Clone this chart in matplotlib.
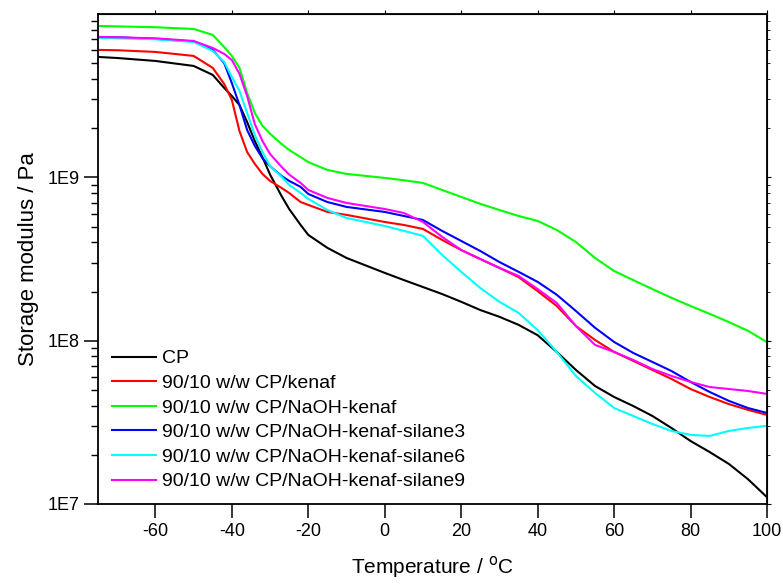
import numpy as np
import matplotlib
matplotlib.use("Agg")
import matplotlib.pyplot as plt
from matplotlib.ticker import LogLocator, FixedLocator, NullFormatter

plt.rcParams["font.family"] = ["Liberation Sans", "DejaVu Sans"]
plt.rcParams["axes.unicode_minus"] = False

# temperature grid (deg C)
temp = [-75, -70, -60, -50, -45, -42, -40, -38, -36, -34, -32, -30, -27, -25,
        -22, -20, -15, -10, 0, 5, 10, 15, 20, 25, 30, 35, 40, 45, 50, 55, 60,
        65, 70, 75, 80, 85, 90, 95, 100]

# storage modulus (Pa)
cp = [5.46e9, 5.38e9, 5.16e9, 4.81e9, 4.24e9, 3.53e9, 3.15e9, 2.77e9, 2.18e9,
      1.67e9, 1.33e9, 1.04e9, 7.69e8, 6.40e8, 5.11e8, 4.44e8, 3.70e8, 3.21e8,
      2.60e8, 2.35e8, 2.13e8, 1.93e8, 1.73e8, 1.54e8, 1.40e8, 1.25e8, 1.08e8,
      8.53e7, 6.62e7, 5.28e7, 4.52e7, 3.98e7, 3.46e7, 2.92e7, 2.43e7, 2.08e7,
      1.76e7, 1.42e7, 1.10e7]
kenaf = [6.03e9, 6.0e9, 5.86e9, 5.54e9, 4.68e9, 3.73e9, 2.98e9, 1.92e9, 1.43e9,
         1.21e9, 1.05e9, 9.51e8, 8.61e8, 8.02e8, 7.06e8, 6.78e8, 6.14e8, 5.89e8,
         5.33e8, 5.11e8, 4.83e8, 4.14e8, 3.59e8, 3.16e8, 2.79e8, 2.45e8, 2.01e8,
         1.63e8, 1.23e8, 1.01e8, 8.53e7, 7.52e7, 6.62e7, 5.83e7, 5.06e7, 4.52e7,
         4.09e7, 3.77e7, 3.51e7]
naoh = [8.45e9, 8.4e9, 8.3e9, 8.1e9, 7.45e9, 6.28e9, 5.54e9, 4.68e9, 3.29e9,
        2.48e9, 2.07e9, 1.85e9, 1.60e9, 1.47e9, 1.33e9, 1.24e9, 1.11e9, 1.05e9,
        9.92e8, 9.6e8, 9.24e8, 8.37e8, 7.59e8, 6.88e8, 6.31e8, 5.80e8, 5.41e8,
        4.76e8, 4.02e8, 3.21e8, 2.67e8, 2.35e8, 2.07e8, 1.83e8, 1.63e8, 1.46e8,
        1.30e8, 1.15e8, 9.8e7]
silane3 = [7.24e9, 7.2e9, 7.05e9, 6.79e9, 6.03e9, 5.01e9, 3.78e9, 2.77e9,
           1.95e9, 1.56e9, 1.31e9, 1.17e9, 1.02e9, 9.51e8, 8.74e8, 7.91e8,
           7.06e8, 6.59e8, 6.14e8, 5.80e8, 5.48e8, 4.70e8, 4.08e8, 3.54e8,
           3.03e8, 2.64e8, 2.29e8, 1.91e8, 1.52e8, 1.20e8, 9.82e7, 8.41e7,
           7.41e7, 6.52e7, 5.59e7, 4.85e7, 4.28e7, 3.87e7, 3.61e7]
silane6 = [7.13e9, 7.1e9, 7.0e9, 6.75e9, 5.94e9, 5.09e9, 4.12e9, 3.38e9, 2.48e9,
           1.82e9, 1.43e9, 1.17e9, 1.01e9, 8.99e8, 8.03e8, 7.38e8, 6.31e8,
           5.64e8, 5.04e8, 4.70e8, 4.38e8, 3.35e8, 2.64e8, 2.10e8, 1.73e8,
           1.48e8, 1.16e8, 8.53e7, 6.08e7, 4.79e7, 3.87e7, 3.46e7, 3.09e7,
           2.80e7, 2.65e7, 2.61e7, 2.80e7, 2.92e7, 3.01e7]
silane9 = [7.24e9, 7.2e9, 7.10e9, 6.84e9, 6.20e9, 5.70e9, 5.23e9, 4.30e9,
           3.15e9, 2.12e9, 1.67e9, 1.39e9, 1.16e9, 1.04e9, 9.24e8, 8.37e8,
           7.48e8, 6.97e8, 6.40e8, 6.05e8, 5.33e8, 4.32e8, 3.59e8, 3.16e8,
           2.79e8, 2.49e8, 2.07e8, 1.70e8, 1.23e8, 9.42e7, 8.53e7, 7.62e7,
           6.71e7, 6.08e7, 5.59e7, 5.20e7, 5.06e7, 4.92e7, 4.72e7]

labels = ["CP", "90/10 w/w CP/kenaf", "90/10 w/w CP/NaOH-kenaf",
          "90/10 w/w CP/NaOH-kenaf-silane3", "90/10 w/w CP/NaOH-kenaf-silane6",
          "90/10 w/w CP/NaOH-kenaf-silane9"]
colors = ["#000000", "#ff0000", "#00ff00", "#0000ff", "#00ffff", "#ff00ff"]

fig = plt.figure(figsize=(7.83, 5.84), dpi=100)
ax = fig.add_axes([0.1252, 0.137, 0.8544, 0.839])

for y, lab, c in zip([cp, kenaf, naoh, silane3, silane6, silane9], labels, colors):
    ax.semilogy(temp, y, color=c, lw=1.5, label=lab)

xt = [-60, -40, -20, 0, 20, 40, 60, 80, 100]
ax.set_xlim(-75, 100)
ax.set_ylim(1e7, 1e10)
ax.xaxis.set_major_locator(FixedLocator(xt))
ax.yaxis.set_major_locator(FixedLocator([1e7, 1e8, 1e9]))
ax.yaxis.set_minor_locator(LogLocator(base=10, subs=np.arange(2, 10)))
ax.yaxis.set_minor_formatter(NullFormatter())
ax.set_yticklabels(["1E7", "1E8", "1E9"])

ax.tick_params(axis="both", which="major", direction="out", length=10, width=1.1,
               labelsize=13, colors="black")
ax.tick_params(axis="y", which="minor", direction="out", length=5, width=1.0)
for sp in ax.spines.values():
    sp.set_linewidth(1.3)

# short outward ticks on top and right, as in the original
sec_x = ax.secondary_xaxis("top")
sec_x.set_xticks(xt)
sec_x.tick_params(direction="out", length=3, labeltop=False)
sec_y = ax.secondary_yaxis("right")
sec_y.set_yscale("log")
sec_y.yaxis.set_major_locator(FixedLocator([1e7, 1e8, 1e9]))
sec_y.yaxis.set_minor_locator(LogLocator(base=10, subs=np.arange(2, 10)))
sec_y.tick_params(which="major", direction="out", length=3, labelright=False)
sec_y.tick_params(which="minor", direction="out", length=2, labelright=False)

ax.set_xlabel("Temperature / $^{\\rm o}$C", fontsize=15, labelpad=10)
ax.set_ylabel("Storage modulus / Pa", fontsize=16, labelpad=6)

ax.legend(loc="lower left", frameon=False, fontsize=14, handlelength=2.3,
          handletextpad=0.3, labelspacing=0.36, borderaxespad=0.3,
          bbox_to_anchor=(0.0, 0.0))

fig.savefig("out.png", dpi=100)
